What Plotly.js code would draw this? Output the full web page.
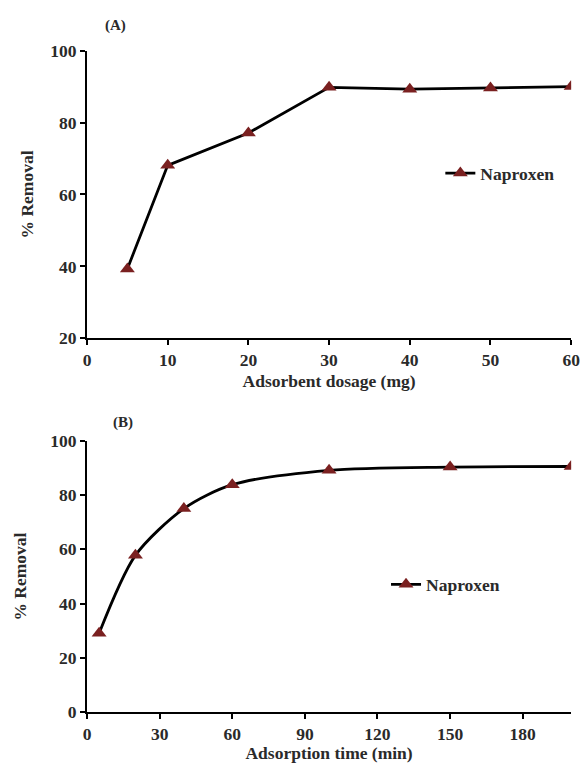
<!DOCTYPE html>
<html>
<head>
<meta charset="utf-8">
<script src="https://cdn.plot.ly/plotly-3.0.1.min.js"></script>
<style>html,body{margin:0;padding:0;background:#fff;}</style>
</head>
<body>
<div id="chart" style="width:584px;height:763px;"></div>
<script>
// Panel A: adsorbent dosage
const dosage = [5, 10, 20, 30, 40, 50, 60];
const removalDosage = [39.3, 68.1, 77.1, 89.8, 89.3, 89.6, 90.0];
// Panel B: adsorption time
const time = [5, 20, 40, 60, 100, 150, 200];
const removalTime = [29.1, 57.8, 75.0, 83.8, 89.1, 90.3, 90.5];
const timeTicks = [0, 30, 60, 90, 120, 150, 180];
const seriesName = "Naproxen";

const F = "Liberation Serif";
const markerColor = "#7a2020";

const traceA = {
  x: dosage, y: removalDosage, name: seriesName, type: "scatter", mode: "lines+markers",
  xaxis: "x", yaxis: "y", legend: "legend", showlegend: true,
  line: {color: "#000", width: 2.8},
  marker: {symbol: "triangle-up", size: 13, color: markerColor}
};
const traceB = {
  x: time, y: removalTime, name: seriesName, type: "scatter", mode: "lines+markers",
  xaxis: "x2", yaxis: "y2", legend: "legend2", showlegend: true,
  line: {color: "#000", width: 2.8, shape: "spline", smoothing: 0.8},
  marker: {symbol: "triangle-up", size: 13, color: markerColor}
};

const axisCommon = {
  showline: true, linecolor: "#000", linewidth: 2, mirror: false,
  showgrid: false, zeroline: false,
  ticks: "outside", ticklen: 5, tickwidth: 2, tickcolor: "#000",
  tickfont: {family: F, size: 17.5, color: "#2a2a2a", weight: "bold"}
};
const titleFont = {family: F, size: 17.5, color: "#2a2a2a", weight: "bold"};
const legendFont = {family: F, size: 17.5, color: "#2a2a2a", weight: "bold"};

const layout = {
  width: 584, height: 763,
  margin: {l: 0, r: 0, t: 0, b: 0},
  showlegend: true,
  paper_bgcolor: "#fff", plot_bgcolor: "#fff",
  xaxis: Object.assign({}, axisCommon, {
    domain: [0.149, 0.978], range: [0, 60], dtick: 10, anchor: "y",
    title: {text: "Adsorbent dosage (mg)", font: titleFont, standoff: 5}
  }),
  yaxis: Object.assign({}, axisCommon, {
    domain: [0.5566, 0.9336], range: [20, 100], dtick: 20, anchor: "x",
    title: {text: "% Removal", font: titleFont, standoff: 12}
  }),
  xaxis2: Object.assign({}, axisCommon, {
    domain: [0.149, 0.978], range: [0, 200], tickvals: timeTicks, anchor: "y2",
    title: {text: "Adsorption time (min)", font: titleFont, standoff: 4}
  }),
  yaxis2: Object.assign({}, axisCommon, {
    domain: [0.0664, 0.4224], range: [0, 100], dtick: 20, anchor: "x2",
    title: {text: "% Removal", font: titleFont, standoff: 19}
  }),
  legend: {
    visible: true,
    x: 0.754, y: 0.773, xanchor: "left", yanchor: "middle",
    bgcolor: "rgba(0,0,0,0)", itemwidth: 30, font: legendFont
  },
  legend2: {
    visible: true,
    x: 0.661, y: 0.234, xanchor: "left", yanchor: "middle",
    bgcolor: "rgba(0,0,0,0)", itemwidth: 30, font: legendFont
  },
  annotations: [
    {text: "(A)", xref: "paper", yref: "paper", x: 115/584, y: 1 - 25/763,
     xanchor: "center", yanchor: "middle",
     showarrow: false, font: {family: F, size: 15, color: "#2a2a2a", weight: "bold"}},
    {text: "(B)", xref: "paper", yref: "paper", x: 123/584, y: 1 - 422/763,
     xanchor: "center", yanchor: "middle",
     showarrow: false, font: {family: F, size: 15, color: "#2a2a2a", weight: "bold"}}
  ]
};

Plotly.newPlot("chart", [traceA, traceB], layout, {displayModeBar: false, staticPlot: true});
</script>
</body>
</html>
